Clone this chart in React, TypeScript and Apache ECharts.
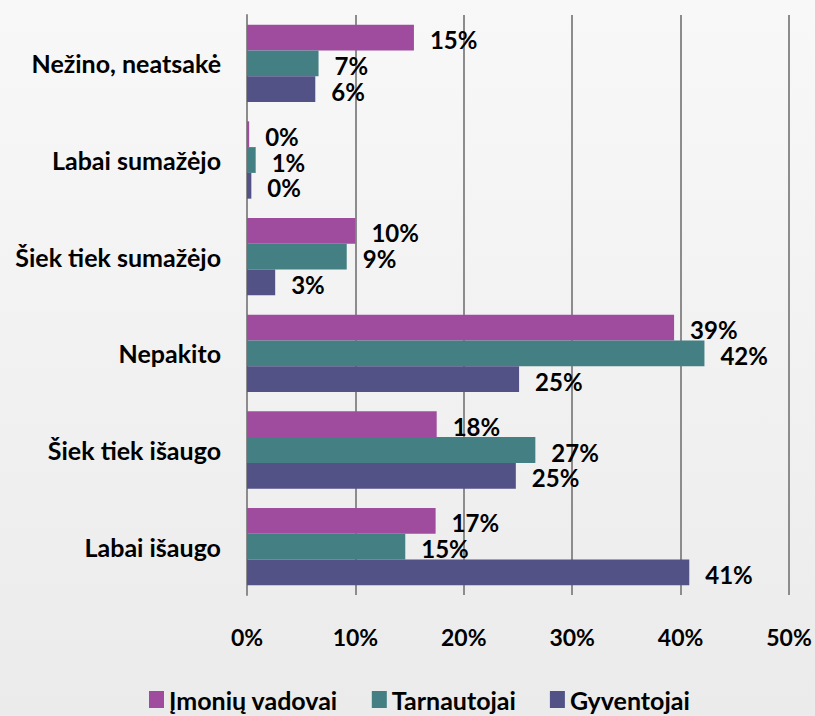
import React, { useEffect, useRef } from "react";
import * as echarts from "echarts";

const categories = [
  "Labai išaugo",
  "Šiek tiek išaugo",
  "Nepakito",
  "Šiek tiek sumažėjo",
  "Labai sumažėjo",
  "Nežino, neatsakė",
];
const seriesNames = ["Įmonių vadovai", "Tarnautojai", "Gyventojai"];
const imoniuVadovai = [17.4, 17.5, 39.4, 10.0, 0.2, 15.4];
const tarnautojai = [14.6, 26.6, 42.2, 9.2, 0.8, 6.6];
const gyventojai = [40.8, 24.8, 25.1, 2.6, 0.4, 6.3];
const xTicks = [0, 10, 20, 30, 40, 50];

const colors = ["#9f4c9f", "#437f83", "#525287"];
const FONT = "Lato";

export default function App() {
  const ref = useRef<HTMLDivElement>(null);
  useEffect(() => {
    document.body.style.margin = "0";
    const chart = echarts.init(ref.current!, null, { renderer: "svg" });
    const data = [imoniuVadovai, tarnautojai, gyventojai];
    chart.setOption({
      animation: false,
      backgroundColor: new echarts.graphic.LinearGradient(0, 0, 0, 1, [
        { offset: 0, color: "#f8f8f8" },
        { offset: 1, color: "#ebebeb" },
      ]),
      textStyle: { fontFamily: FONT },
      legend: {
        data: seriesNames,
        left: 144,
        top: 682,
        itemWidth: 15,
        itemHeight: 17,
        itemGap: 34,
        icon: "rect",
        textStyle: { fontSize: 25, fontWeight: "bold", color: "#000", fontFamily: FONT },
      },
      grid: { left: 247, right: 26, top: 15, bottom: 121, containLabel: false },
      xAxis: {
        type: "value",
        min: xTicks[0],
        max: xTicks[xTicks.length - 1],
        interval: 10,
        axisLine: { show: false },
        axisTick: { show: false },
        axisLabel: {
          margin: 30,
          fontSize: 23,
          fontWeight: "bold",
          color: "#000",
          fontFamily: FONT,
          formatter: (v: number) => v + "%",
        },
        splitLine: { show: true, lineStyle: { color: "#8c8c8c", width: 2 } },
      },
      yAxis: {
        type: "category",
        data: categories,
        axisLine: { show: true, lineStyle: { color: "#8c8c8c", width: 2 } },
        axisTick: { show: false },
        axisLabel: {
          margin: 26,
          fontSize: 25,
          fontWeight: "bold",
          color: "#000",
          fontFamily: FONT,
        },
      },
      series: seriesNames.map((name, i) => ({
        name,
        type: "bar",
        data: data[i],
        itemStyle: { color: colors[i] },
        barGap: "0%",
        barCategoryGap: "20%",
        label: {
          show: true,
          position: "right",
          distance: 16,
          fontSize: 24,
          fontWeight: "bold",
          color: "#000",
          fontFamily: FONT,
          offset: [0, 2],
          formatter: (p: any) => Math.round(p.value) + "%",
        },
      })),
    });
    return () => chart.dispose();
  }, []);
  return <div ref={ref} style={{ width: 815, height: 716 }} />;
}
